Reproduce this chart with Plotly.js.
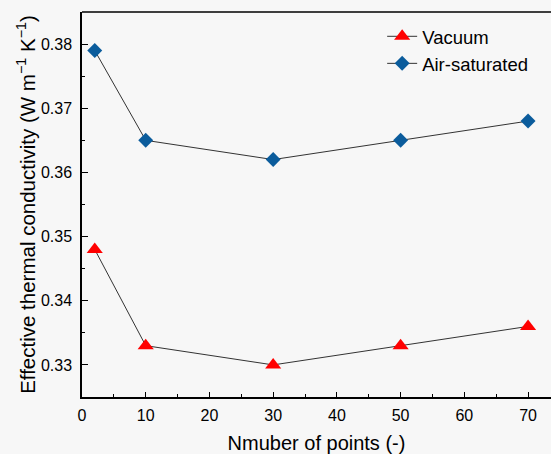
<!DOCTYPE html>
<html><head><meta charset="utf-8">
<script src="https://cdn.plot.ly/plotly-3.0.1.min.js"></script>
<style>body{margin:0;padding:0;background:#f7f7f7;}#chart{width:551px;height:454px;}</style>
</head><body><div id="chart"></div>
<script>
const points = [2, 10, 30, 50, 70];
const vacuum = [0.348, 0.333, 0.330, 0.333, 0.336];
const airSaturated = [0.379, 0.365, 0.362, 0.365, 0.368];
const seriesNames = ['Vacuum', 'Air-saturated'];

const font = 'Arial, "Liberation Sans", sans-serif';
const traces = [
  {x: points, y: vacuum, name: seriesNames[0], mode: 'lines+markers', type: 'scatter',
   line: {color: '#333333', width: 1},
   marker: {symbol: 'triangle-up', size: 14, color: '#ff0000'}},
  {x: points, y: airSaturated, name: seriesNames[1], mode: 'lines+markers', type: 'scatter',
   line: {color: '#333333', width: 1},
   marker: {symbol: 'diamond', size: 11.5, color: '#0b5c9c'}}
];
const layout = {
  width: 551, height: 454,
  margin: {l: 82, r: 0, t: 12, b: 57},
  paper_bgcolor: '#f7f7f7', plot_bgcolor: '#f7f7f7',
  font: {family: font, color: '#000'},
  showlegend: true,
  legend: {x: 0.64, y: 0.985, xanchor: 'left', yanchor: 'top', bgcolor: 'rgba(0,0,0,0)',
           font: {size: 18.5, family: font}, tracegroupgap: 0},
  xaxis: {range: [0, 73.6], dtick: 10, tick0: 0, ticks: 'inside', ticklen: 5, tickcolor: '#000',
          showline: true, linecolor: '#000', linewidth: 1.5, mirror: false, showgrid: false, zeroline: false,
          tickfont: {size: 16, family: font}, ticklabelstandoff: 3,
          minor: {dtick: 5, ticks: 'inside', ticklen: 3, tickcolor: '#000', showgrid: false},
          title: {text: 'Nmuber of points (-)', font: {size: 20, family: font}, standoff: 13}},
  yaxis: {range: [0.325, 0.385], dtick: 0.01, tick0: 0.33, ticks: 'inside', ticklen: 6, tickcolor: '#000',
          showline: true, linecolor: '#000', linewidth: 1.5, showgrid: false, zeroline: false,
          tickfont: {size: 16, family: font}, ticklabelstandoff: 5, tickformat: '.2f',
          minor: {dtick: 0.005, ticks: 'inside', ticklen: 3, tickcolor: '#000', showgrid: false},
          title: {text: 'Effective thermal conductivity (W m<sup>\u22121</sup> K<sup>\u22121</sup>)', font: {size: 20.5, family: font}, standoff: 0}},
  shapes: [{type: 'line', xref: 'paper', yref: 'paper', x0: 0, x1: 1, y0: 1, y1: 1, line: {color: '#000', width: 1.5}}]
};
Plotly.newPlot('chart', traces, layout, {displayModeBar: false});
</script></body></html>
